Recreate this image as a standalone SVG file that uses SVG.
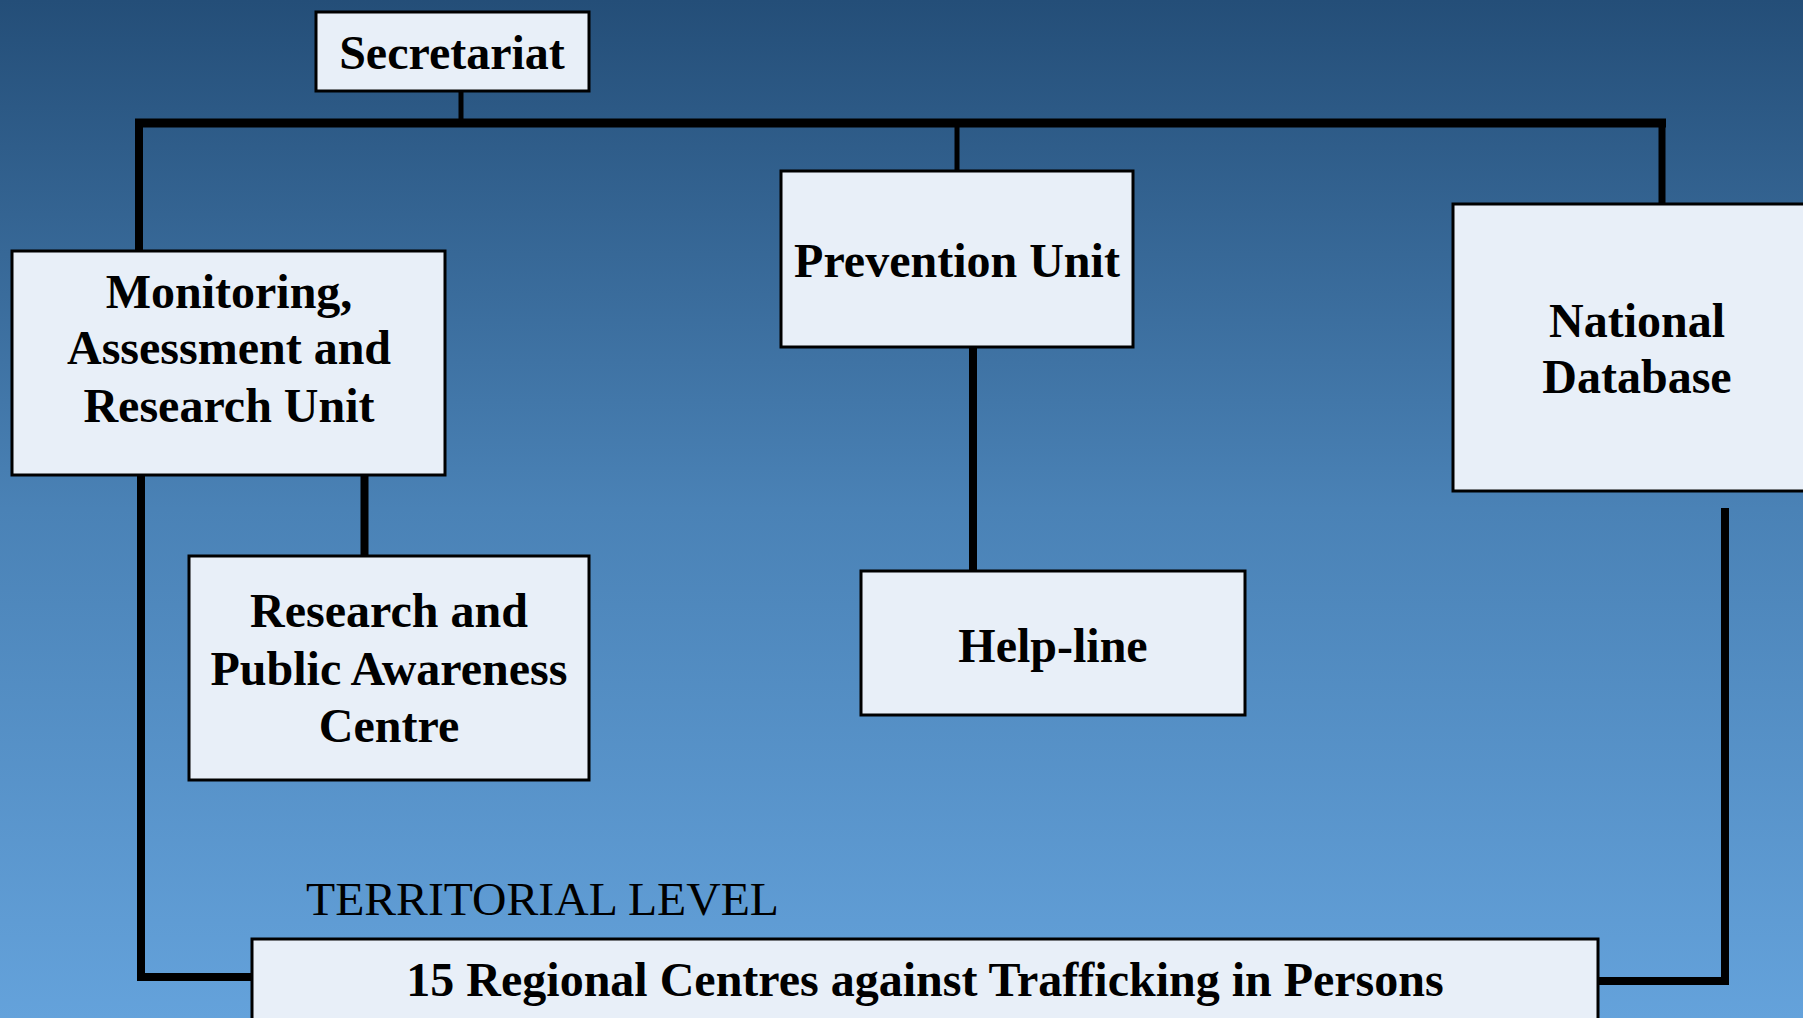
<svg xmlns="http://www.w3.org/2000/svg" width="1803" height="1018" viewBox="0 0 1803 1018">
<defs>
<linearGradient id="bg" x1="0" y1="0" x2="0" y2="1">
<stop offset="0" stop-color="#244e78"/>
<stop offset="0.5" stop-color="#4a82b6"/>
<stop offset="1" stop-color="#64a2db"/>
</linearGradient>
<style>
.box{fill:#e8eff8;stroke:#000;stroke-width:3}
.t{font-family:"Liberation Serif","Times New Roman",serif;font-weight:bold;font-size:48px;fill:#000;text-anchor:middle}
.lbl{font-family:"Liberation Serif","Times New Roman",serif;font-size:47px;fill:#000}
.c{fill:none;stroke:#000;stroke-linecap:butt;stroke-linejoin:miter}
</style>
</defs>
<rect x="0" y="0" width="1803" height="1018" fill="url(#bg)"/>
<g id="connectors">
<line class="c" x1="461" y1="91" x2="461" y2="123" stroke-width="5"/>
<line class="c" x1="135" y1="123" x2="1666" y2="123" stroke-width="9"/>
<line class="c" x1="139" y1="123" x2="139" y2="251" stroke-width="8"/>
<line class="c" x1="957" y1="123" x2="957" y2="171" stroke-width="5"/>
<line class="c" x1="1662" y1="123" x2="1662" y2="204" stroke-width="7"/>
<line class="c" x1="364.5" y1="475" x2="364.5" y2="556" stroke-width="8"/>
<line class="c" x1="973" y1="347" x2="973" y2="571" stroke-width="8"/>
<path class="c" d="M141 475 V977 H252" stroke-width="8"/>
<path class="c" d="M1725 508 V981 H1598" stroke-width="8"/>
</g>
<g id="secretariat">
<rect class="box" x="316" y="12" width="273" height="79"/>
<text class="t" x="452" y="69">Secretariat</text>
</g>
<g id="monitoring">
<rect class="box" x="12" y="251" width="433" height="224"/>
<text class="t" x="229" y="308">Monitoring,</text>
<text class="t" x="229" y="364">Assessment and</text>
<text class="t" x="229" y="422">Research Unit</text>
</g>
<g id="prevention">
<rect class="box" x="781" y="171" width="352" height="176"/>
<text class="t" x="957" y="277">Prevention Unit</text>
</g>
<g id="national-database">
<rect class="box" x="1453" y="204" width="370" height="287"/>
<text class="t" x="1637" y="337">National</text>
<text class="t" x="1637" y="393">Database</text>
</g>
<g id="research-centre">
<rect class="box" x="189" y="556" width="400" height="224"/>
<text class="t" x="389" y="627">Research and</text>
<text class="t" x="389" y="685">Public Awareness</text>
<text class="t" x="389" y="742">Centre</text>
</g>
<g id="helpline">
<rect class="box" x="861" y="571" width="384" height="144"/>
<text class="t" x="1053" y="662">Help-line</text>
</g>
<g id="territorial-label">
<text class="lbl" x="306" y="915" textLength="473" lengthAdjust="spacingAndGlyphs">TERRITORIAL LEVEL</text>
</g>
<g id="regional-centres">
<rect class="box" x="252" y="939" width="1346" height="100"/>
<text class="t" x="925" y="996">15 Regional Centres against Trafficking in Persons</text>
</g>
</svg>
